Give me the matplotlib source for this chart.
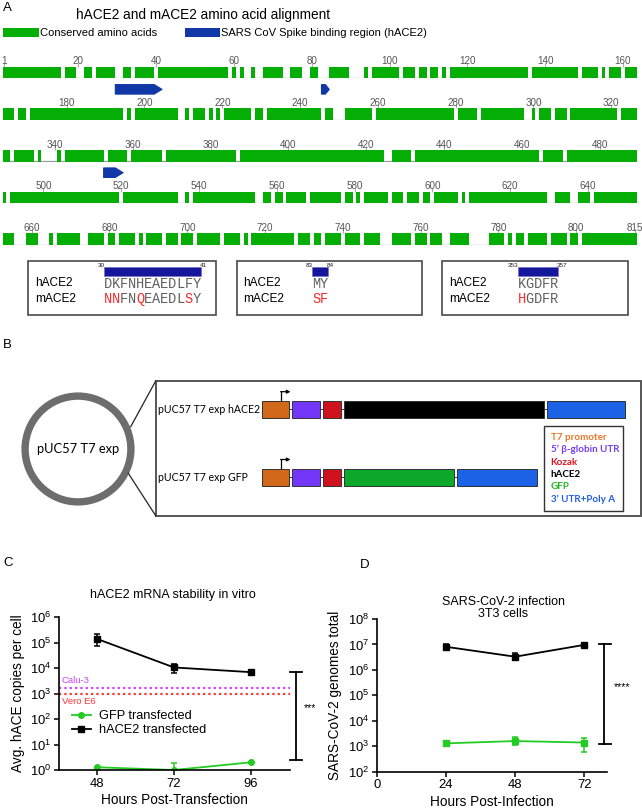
import numpy as np
import matplotlib
matplotlib.use('Agg')
import matplotlib.pyplot as plt
from matplotlib.patches import Rectangle, Polygon, Circle
from matplotlib.lines import Line2D
from matplotlib.ticker import FixedLocator, NullLocator, FuncFormatter

plt.rcParams['font.family'] = ['Liberation Sans', 'DejaVu Sans']
plt.rcParams['mathtext.fontset'] = 'custom'
plt.rcParams['mathtext.rm'] = 'Liberation Sans'
plt.rcParams['mathtext.it'] = 'Liberation Sans:italic'
plt.rcParams['mathtext.default'] = 'regular'

# ---------------- Panel A data ----------------
row_starts = [1, 164, 327, 490, 653]
row_len = 163
total_len = 815
mismatch_row1 = [16, 20, 21, 24, 30, 31, 34, 40, 59, 61, 63, 64, 66, 67, 73, 74, 78, 79,
                 82, 83, 84, 90, 91, 92, 93, 95, 103, 107, 110, 113, 115, 136, 149, 154, 156, 160]
mismatch_row2 = [167, 170, 195, 197, 209, 210, 212, 216, 218, 220, 228, 231, 246, 249, 250, 251,
                 259, 280, 286, 298, 299, 301, 305, 309, 322]
mismatch_row3 = [329, 335, 337, 338, 339, 340, 342, 353, 359, 368, 387, 425, 426, 432, 465, 471]
mismatch_row4 = [491, 520, 535, 536, 538, 555, 556, 559, 562, 568, 577, 580, 582, 589, 593, 597,
                 600, 607, 609, 630, 631, 636, 637, 641]
mismatch_row5 = [656, 657, 658, 662, 663, 664, 666, 673, 674, 679, 682, 687, 689, 694, 698, 702,
                 709, 714, 716, 728, 732, 735, 740, 745, 750, 751, 752, 758, 762, 766, 767, 773,
                 774, 775, 776, 777, 782, 784, 787, 793, 798, 801]
binding_starts = [30, 83, 353]
binding_ends = [41, 84, 357]
hace2_seqs = ['DKFNHEAEDLFY', 'MY', 'KGDFR']
mace2_seqs = ['NNFNQEAEDLSY', 'SF', 'HGDFR']

# ---------------- Panel B data ----------------
element_names = ['T7 promoter', '5\u2019 \u03b2-globin UTR', 'Kozak', 'hACE2', 'GFP', '3\u2019 UTR+Poly A']
element_fill = ['#D2691A', '#7436F8', '#D0121E', '#000000', '#0BA82C', '#1B62E6']
element_text = ['#E8782A', '#7A3CF5', '#E01420', '#000000', '#22B422', '#1D5FE6']
construct_names = ['pUC57 T7 exp hACE2', 'pUC57 T7 exp GFP']
construct_parts = [[0, 1, 2, 3, 5], [0, 1, 2, 4, 5]]
construct_lengths = [[27.5, 28, 17.5, 200.5, 78], [27.5, 28, 17.5, 110.5, 79.5]]

# ---------------- Panel C data ----------------
c_hours = [48, 72, 96]
c_hace2 = [1.4e5, 1.07e4, 7.0e3]
c_hace2_lo = [7.6e4, 6.4e3, 6.3e3]
c_hace2_hi = [2.2e5, 1.5e4, 7.6e3]
c_gfp = [1.28, 1.0, 2.0]
c_gfp_lo = [1.2, 0.5, 1.9]
c_gfp_hi = [1.35, 1.94, 2.1]
calu3_level = 1.74e3
vero_level = 1.0e3
c_sig = (2.5, 7.0e3, '***')

# ---------------- Panel D data ----------------
d_hours = [24, 48, 72]
d_hace2 = [8.1e6, 3.3e6, 9.6e6]
d_hace2_lo = [5.8e6, 2.4e6, 8.8e6]
d_hace2_hi = [1.05e7, 4.5e6, 1.05e7]
d_gfp = [1.3e3, 1.6e3, 1.4e3]
d_gfp_lo = [1.2e3, 1.1e3, 6.1e2]
d_gfp_hi = [1.45e3, 2.4e3, 2.2e3]
d_sig = (1.2e3, 1.0e7, '****')

# ---------------- figure ----------------
W, H = 642, 811
fig = plt.figure(figsize=(W / 100, H / 100), dpi=100)


def fr(x0, y0, x1, y1):
    return [x0 / W, 1 - y1 / H, (x1 - x0) / W, (y1 - y0) / H]


ov = fig.add_axes([0, 0, 1, 1], zorder=0)
ov.set_xlim(0, W)
ov.set_ylim(H, 0)
ov.axis('off')

GREEN = '#05AE05'
ARROW = '#1238A8'
NAVY = '#16169A'
fontB = ['Lato', 'Open Sans', 'DejaVu Sans']

# ---- Panel A header
ov.text(3, 8, 'A', fontsize=9.5, ha='left', va='center')
ov.text(203, 15, 'hACE2 and mACE2 amino acid alignment', fontsize=9.8, ha='center', va='center')
ov.add_patch(Rectangle((3, 28.3), 36, 8.4, fc=GREEN, ec='none'))
ov.text(40, 32.7, 'Conserved amino acids', fontsize=8, ha='left', va='center')
ov.add_patch(Rectangle((185, 28.3), 35, 8.4, fc=ARROW, ec='none'))
ov.text(221, 32.7, 'SARS CoV Spike binding region (hACE2)', fontsize=8, ha='left', va='center')

# ---- Alignment rows
mismatch_all = set(mismatch_row1 + mismatch_row2 + mismatch_row3 + mismatch_row4 + mismatch_row5)
s_px = 3.89
x0_px = 2.5
bar_h = 11.7
row_top0 = 66.7
row_dy = 41.67
row_axes = []
for i, rs in enumerate(row_starts):
    top = row_top0 + i * row_dy
    ax = fig.add_axes(fr(x0_px, top, x0_px + row_len * s_px, top + bar_h), zorder=2)
    ax.patch.set_alpha(0)
    ax.set_xlim(rs - 0.5, rs + row_len - 0.5)
    ax.set_ylim(0, 1)
    res = np.arange(rs, min(rs + row_len, total_len + 1))
    cons = np.array([r not in mismatch_all for r in res])
    runs = []
    start = None
    for r, c in zip(res, cons):
        if c and start is None:
            start = r
        if not c and start is not None:
            runs.append((start - 0.5, r - start))
            start = None
    if start is not None:
        runs.append((start - 0.5, res[-1] + 1 - start))
    ax.plot([res[0] - 0.5, res[-1] + 0.5], [0.04, 0.04], color='#9a9a9a', lw=0.9, zorder=1,
            solid_capstyle='butt')
    ax.broken_barh(runs, (0, 1), facecolors=GREEN, edgecolors='none', zorder=2)
    ticks = [t for t in range(20, total_len + 1, 20) if rs <= t < rs + row_len]
    if i == 0:
        ticks = [1] + ticks
    if i == len(row_starts) - 1:
        ticks = ticks + [total_len]
    ax.set_xticks(ticks)
    ax.set_xticklabels([str(t) for t in ticks])
    ax.xaxis.tick_top()
    ax.tick_params(axis='x', length=2.6, width=0.5, color='#888888', labelsize=7.1,
                   labelcolor='#555555', pad=-2.4)
    ax.set_yticks([])
    for sp in ax.spines.values():
        sp.set_visible(False)
    row_axes.append(ax)

# binding-region arrows below rows
for a, b in zip(binding_starts, binding_ends):
    i = max(k for k, rs in enumerate(row_starts) if rs <= a)
    ax = row_axes[i]
    y0 = -6.2 / bar_h
    y1 = -(6.2 + 9.5) / bar_h
    n = b - a + 1
    tip = min(2.0, 0.5 * n)
    pts = [(a - 0.5, y0), (b + 0.5 - tip, y0), (b + 0.5, (y0 + y1) / 2),
           (b + 0.5 - tip, y1), (a - 0.5, y1)]
    ax.add_patch(Polygon(pts, closed=True, fc=ARROW, ec=ARROW, lw=0.8, joinstyle='round',
                         clip_on=False))

# ---- alignment detail boxes
box_x = [28, 236.5, 442]
box_w = [188, 185.5, 186]
box_top, box_bot = 260.7, 315
cw = 8.1
for k in range(3):
    bx = box_x[k]
    ov.add_patch(Rectangle((bx, box_top), box_w[k], box_bot - box_top, fill=False,
                           ec='#4a4a4a', lw=1.2))
    ov.text(bx + 7, 283.5, 'hACE2', fontsize=8.6, ha='left', va='center')
    ov.text(bx + 7, 298.5, 'mACE2', fontsize=8.6, ha='left', va='center')
    sx = bx + 75.5
    hs, ms = hace2_seqs[k], mace2_seqs[k]
    n = len(hs)
    ov.add_patch(Rectangle((sx, 266.7), n * cw, 9, fc=NAVY, ec='#7070d0', lw=0.5))
    ov.text(sx + 1, 268, str(binding_starts[k]), fontsize=4.6, ha='right', va='bottom', color='#222')
    ov.text(sx + n * cw - 1, 268, str(binding_ends[k]), fontsize=4.6, ha='left', va='bottom', color='#222')
    for j, ch in enumerate(hs):
        ov.text(sx + j * cw, 284, ch, family='Liberation Mono', fontsize=9.8, color='#606060',
                ha='left', va='center')
    for j, ch in enumerate(ms):
        col = '#FF2A2A' if ch != hs[j] else '#606060'
        ov.text(sx + j * cw, 299, ch, family='Liberation Mono', fontsize=9.8, color=col,
                ha='left', va='center')

# ---------------- Panel B ----------------
ov.text(3, 345, 'B', fontsize=9.5, ha='left', va='center')
ov.add_patch(Circle((78, 449), 52.9, fill=False, ec='#6d6d6d', lw=5.3))
ov.text(78, 449, 'pUC57 T7 exp', fontsize=9.3, ha='center', va='center', family=fontB)
ov.plot([130.7, 155.7], [426.7, 381], color='#222222', lw=0.9)
ov.plot([128.3, 155.7], [473.3, 515.7], color='#222222', lw=0.9)
ov.add_patch(Rectangle((155.7, 381), 641 - 155.7, 515.7 - 381, fill=False, ec='#555555', lw=1.4))

cx0 = 261.5
cgap = 3.0
row_y = [400.7, 468.5]
bh = 17.3
for j in range(2):
    y = row_y[j]
    ov.text(157.7, y + bh / 2, construct_names[j], fontsize=7.6, ha='left', va='center', family=fontB)
    x = cx0
    spans = []
    for p, L in zip(construct_parts[j], construct_lengths[j]):
        ov.add_patch(Rectangle((x, y), L, bh, fc=element_fill[p], ec='#333333', lw=0.7, zorder=3))
        spans.append((x, x + L))
        x += L + cgap
    for (a0, a1), (b0, b1) in zip(spans[:-1], spans[1:]):
        ov.plot([a1, b0], [y + bh / 2] * 2, color='#333333', lw=0.7, zorder=2)
    px = spans[0][0] + 0.71 * (spans[0][1] - spans[0][0])
    ov.plot([px, px], [y, y - 9], color='k', lw=0.9)
    ov.annotate('', xy=(px + 9.5, y - 9), xytext=(px - 0.4, y - 9),
                arrowprops=dict(arrowstyle='-|>', lw=0.9, color='k', mutation_scale=5,
                                shrinkA=0, shrinkB=0))

ov.add_patch(Rectangle((544.3, 426), 79, 84.7, fill=False, ec='#333333', lw=1.0, zorder=4))
for i, (el, col) in enumerate(zip(element_names, element_text)):
    ov.text(550.7, 437.3 + i * 12.4, el, color=col, fontsize=7.1, fontweight='bold',
            ha='left', va='center', family=fontB)

# ---------------- Panel C ----------------
ov.text(3, 563, 'C', fontsize=9.5, ha='left', va='center')
ov.text(360, 565, 'D', fontsize=9.5, ha='left', va='center')


def style_log_axes(ax, lo_exp, hi_exp):
    ax.set_yscale('log')
    ax.set_ylim(10.0 ** lo_exp, 10.0 ** hi_exp)
    ax.yaxis.set_major_locator(FixedLocator([10.0 ** k for k in range(lo_exp, hi_exp + 1)]))
    ax.yaxis.set_minor_locator(NullLocator())
    ax.yaxis.set_major_formatter(FuncFormatter(lambda v, p: '$10^{%d}$' % int(round(np.log10(v)))))
    for sp in ['top', 'right']:
        ax.spines[sp].set_visible(False)
    for sp in ['left', 'bottom']:
        ax.spines[sp].set_linewidth(1.2)
    ax.tick_params(axis='both', labelsize=9.4, length=3.5, width=1.1, pad=2)
    ax.patch.set_alpha(0)


axC = fig.add_axes(fr(59, 617.3, 290, 770), zorder=3)
style_log_axes(axC, 0, 6)
axC.set_xlim(36, 108.3)
axC.set_xticks(c_hours)
axC.axhline(calu3_level, color='#CC44FF', ls=(0, (1, 1.4)), lw=1.6)
axC.axhline(vero_level, color='#FF3333', ls=(0, (1, 1.4)), lw=1.6)
axC.text(36.8, calu3_level * 1.95, 'Calu-3', color='#CC44FF', fontsize=6.8, ha='left', va='center')
axC.text(36.8, vero_level / 1.95, 'Vero E6', color='#FF3333', fontsize=6.8, ha='left', va='center')
axC.errorbar(c_hours, c_gfp,
             yerr=[np.array(c_gfp) - np.array(c_gfp_lo), np.array(c_gfp_hi) - np.array(c_gfp)],
             color='#22CC22', marker='o', ms=4, lw=1.3, capsize=2.3, elinewidth=1.1, capthick=1.1,
             label='GFP transfected')
axC.errorbar(c_hours, c_hace2,
             yerr=[np.array(c_hace2) - np.array(c_hace2_lo), np.array(c_hace2_hi) - np.array(c_hace2)],
             color='k', marker='s', ms=4.3, lw=1.3, capsize=2.3, elinewidth=1.1, capthick=1.1,
             label='hACE2 transfected')
hC = [Line2D([], [], color='#22CC22', marker='o', ms=4, lw=1.3),
      Line2D([], [], color='k', marker='s', ms=4.3, lw=1.3)]
axC.legend(hC, ['GFP transfected', 'hACE2 transfected'], loc='upper left',
           bbox_to_anchor=(0.055, 0.39), frameon=False, fontsize=9.2, handlelength=1.5,
           handletextpad=0.6, labelspacing=0.12, borderpad=0, borderaxespad=0)
lo, hi, star = c_sig
axC.plot([110.1, 110.1], [lo, hi], color='k', lw=1.3, clip_on=False)
axC.plot([108.3, 111.9], [hi, hi], color='k', lw=1.3, clip_on=False)
axC.plot([108.3, 111.9], [lo, lo], color='k', lw=1.3, clip_on=False)
axC.text(112.6, 10 ** 2.43, star, fontsize=7.5, ha='left', va='center')
axC.set_title('hACE2 mRNA stability in vitro', fontsize=9, x=0.494, y=1.055, va='bottom')
axC.set_xlabel('Hours Post-Transfection', fontsize=9.8)
axC.xaxis.set_label_coords(0.5, -0.196)
axC.xaxis.label.set_va('center')
axC.set_ylabel('Avg. hACE copies per cell', fontsize=9.8)
axC.yaxis.set_label_coords(-0.177, 0.5)
axC.yaxis.label.set_va('center')

# ---------------- Panel D ----------------
axD = fig.add_axes(fr(376.7, 619, 607.3, 771.7), zorder=3)
style_log_axes(axD, 2, 8)
axD.set_xlim(0, 80)
axD.set_xticks([0, 24, 48, 72])
axD.errorbar(d_hours, d_gfp,
             yerr=[np.array(d_gfp) - np.array(d_gfp_lo), np.array(d_gfp_hi) - np.array(d_gfp)],
             color='#22CC22', marker='s', ms=3.8, lw=1.3, capsize=2.3, elinewidth=1.1, capthick=1.1)
axD.errorbar(d_hours, d_hace2,
             yerr=[np.array(d_hace2) - np.array(d_hace2_lo), np.array(d_hace2_hi) - np.array(d_hace2)],
             color='k', marker='s', ms=4.3, lw=1.3, capsize=2.3, elinewidth=1.1, capthick=1.1)
lo, hi, star = d_sig
axD.plot([79.0, 79.0], [lo, hi], color='k', lw=1.3, clip_on=False)
axD.plot([77.0, 81.3], [hi, hi], color='k', lw=1.3, clip_on=False)
axD.plot([77.0, 81.3], [lo, lo], color='k', lw=1.3, clip_on=False)
axD.text(82.4, 10 ** 5.34, star, fontsize=7.5, ha='left', va='center')
axD.text(0.55, 1.069, 'SARS-CoV-2 infection\n3T3 cells', transform=axD.transAxes,
         fontsize=9, ha='center', va='center', linespacing=1.0)
axD.set_xlabel('Hours Post-Infection', fontsize=9.8)
axD.xaxis.set_label_coords(0.5, -0.196)
axD.xaxis.label.set_va('center')
axD.set_ylabel('SARS-CoV-2 genomes total', fontsize=9.8)
axD.yaxis.set_label_coords(-0.181, 0.5)
axD.yaxis.label.set_va('center')

fig.savefig('out.png', dpi=100)
